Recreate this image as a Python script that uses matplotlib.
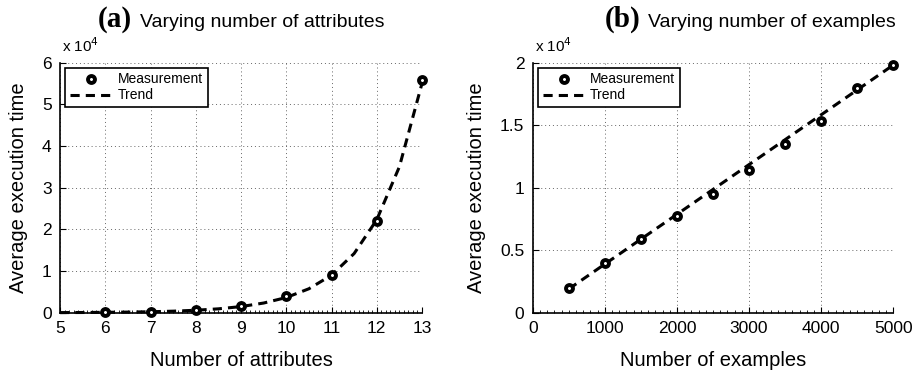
import matplotlib
matplotlib.use("Agg")
import matplotlib.pyplot as plt
from matplotlib.ticker import AutoMinorLocator, FormatStrFormatter

# (a) varying number of attributes, values in units of 1e4
attr_x = [6, 7, 8, 9, 10, 11, 12, 13]
attr_time = [0.01, 0.03, 0.07, 0.17, 0.39, 0.90, 2.19, 5.57]
attr_trend_x = [5, 5.5, 6, 6.5, 7, 7.5, 8, 8.5, 9, 9.5, 10, 10.5, 11, 11.5, 12, 12.5, 13]
attr_trend = [0.004, 0.006, 0.010, 0.016, 0.024, 0.038, 0.060, 0.094, 0.148,
              0.233, 0.365, 0.575, 0.90, 1.42, 2.23, 3.50, 5.50]

# (b) varying number of examples, values in units of 1e4
ex_x = [500, 1000, 1500, 2000, 2500, 3000, 3500, 4000, 4500, 5000]
ex_time = [0.20, 0.40, 0.59, 0.775, 0.95, 1.14, 1.35, 1.53, 1.80, 1.98]
ex_trend_x = [500, 5000]
ex_trend = [0.19, 1.98]

plt.rcParams['font.family'] = ['Liberation Sans', 'DejaVu Sans']

fig = plt.figure(figsize=(9.18, 3.71), dpi=100)
ax1 = fig.add_axes([0.0654, 0.157, 0.3943, 0.6745])
ax2 = fig.add_axes([0.5803, 0.157, 0.3928, 0.6745])


def style_axes(ax, xlabel):
    ax.spines['top'].set_visible(False)
    ax.spines['right'].set_visible(False)
    ax.spines['left'].set_linewidth(1.2)
    ax.spines['bottom'].set_linewidth(1.2)
    ax.grid(True, linestyle=(0, (1, 3)), color='#666666', linewidth=0.7)
    ax.tick_params(direction='in', labelsize=12.5, length=4, width=0.8)
    ax.tick_params(axis='x', pad=6)
    ax.tick_params(axis='y', pad=6)
    ax.tick_params(which='minor', direction='in', length=2, width=0.6)
    ax.tick_params(axis='y', which='minor', left=False)
    ax.xaxis.set_minor_locator(AutoMinorLocator(10))
    ax.set_xlabel(xlabel, fontsize=14.5, labelpad=11)
    ax.set_ylabel("Average execution time", fontsize=14.5, labelpad=10)
    ax.text(0.005, 1.03, r"x 10$^4$", transform=ax.transAxes, fontsize=11,
            ha='left', va='bottom')


def draw(ax, x, y, tx, ty):
    ax.plot(x, y, linestyle='none', marker='o', markersize=5,
            markerfacecolor='white', markeredgecolor='black',
            markeredgewidth=2.8, label='Measurement', zorder=3, clip_on=False)
    ax.plot(tx, ty, color='black', linestyle='--', dashes=(3, 2),
            linewidth=2.2, label='Trend', zorder=2, clip_on=False)
    leg = ax.legend(loc='upper left', bbox_to_anchor=(0.015, 0.98), fontsize=10,
                    fancybox=False, framealpha=1, edgecolor='black',
                    handlelength=3.0, borderpad=0.35, labelspacing=0.15,
                    handletextpad=0.4, borderaxespad=0)
    leg.get_frame().set_linewidth(1.2)


draw(ax1, attr_x, attr_time, attr_trend_x, attr_trend)
ax1.set_xlim(5, 13)
ax1.set_ylim(0, 6)
ax1.set_xticks(range(5, 14))
ax1.set_yticks(range(0, 7))
style_axes(ax1, "Number of attributes")

draw(ax2, ex_x, ex_time, ex_trend_x, ex_trend)
ax2.set_xlim(0, 5000)
ax2.set_ylim(0, 2)
ax2.set_xticks(range(0, 5001, 1000))
ax2.set_yticks([0, 0.5, 1, 1.5, 2])
ax2.yaxis.set_major_formatter(FormatStrFormatter('%g'))
style_axes(ax2, "Number of examples")

# panel titles: bold serif letter + sans text
fig.text(132 / 918, 0.927, "(a)", fontsize=21, fontweight='bold',
         family=['Liberation Serif'], ha='right', va='baseline')
fig.text(140 / 918, 0.927, "Varying number of attributes", fontsize=14,
         ha='left', va='baseline')
fig.text(640 / 918, 0.927, "(b)", fontsize=21, fontweight='bold',
         family=['Liberation Serif'], ha='right', va='baseline')
fig.text(648 / 918, 0.927, "Varying number of examples", fontsize=14,
         ha='left', va='baseline')

fig.savefig("out.png", dpi=100)
